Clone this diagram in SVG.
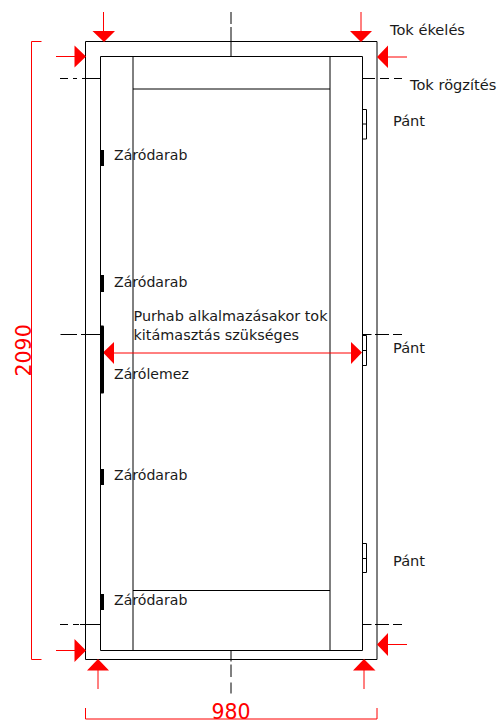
<svg xmlns="http://www.w3.org/2000/svg" width="497" height="721" viewBox="0 0 497 721">
<style>
text{font-family:"DejaVu Sans",Verdana,sans-serif;font-size:14.1px;fill:#1a1a1a}
.t{font-size:14.6px}
.n{font-size:14.4px}
.dim{font-size:20.5px;fill:#f00}
.k{fill:none;stroke:#000;stroke-width:1}
.d{fill:none;stroke:#000;stroke-width:1}
.r{fill:none;stroke:#f00;stroke-width:1}
.h{fill:#f00;stroke:none}
.b{fill:#000;stroke:none}
</style>
<rect width="497" height="721" fill="#fff"/>
<g id="door-frame">
<path class="k" d="M85.500 659.500V41.500H377V659.500H85.500"/>
<path class="k" d="M100.500 56.500H362.500V650.500H100.500Z"/>
<path class="k" d="M133 56.500V650.500M330 56.500V650.500M133 89H330M133 590.500H330"/>
</g>
<g id="connectors">
<path class="d" d="M231 12V24M231 27V56M231 650V661.500M231 664.500V677M231 682.500V693.500M60 78.500H68M73 78.500H77M82 78.500H100M363 78.500H375M380 78.500H389M394 78.500H402M60.500 334.500H77M81 334.500H100M363 334.500H371.500M375 334.500H389M393 334.500H402M60 624.500H68M73 624.500H79M80 624.500H100M363 624.500H371.500M375 624.500H389M393 624.500H402"/>
<path class="r" d="M103.500 12V32M361 12V32M56 56.500H76M407 57H386M56 650.500H76M407 644.500H386M98 689V669M364 689V669M108 353H356"/>
<path class="h" d="M104 42L92.500 31H115ZM361 42L350 31H372ZM86 56.500L74.500 45.500V67.500ZM377 57L388 45.500V68ZM86 650.500L74.500 639V662ZM377 644.500L388 633V656ZM98 659L87 670.500H109ZM364 659L353 670.500H375.500ZM103 352.500L114 342V364ZM362 352.500L351 342V364Z"/>
</g>
<g id="dimension-height">
<path class="r" d="M41.500 41.500H31.500V659.500H41.500"/>
<text class="dim" transform="translate(30.500 376.500) rotate(-90)">2090</text>
</g>
<g id="dimension-width">
<path class="r" d="M85.500 708V719H377V708"/>
<text class="dim" x="231" y="719" text-anchor="middle">980</text>
</g>
<g id="strike-1"><rect class="b" x="100" y="150" width="4" height="16"/><text x="114" y="160">Záródarab</text></g>
<g id="strike-2"><rect class="b" x="100" y="275" width="4" height="17"/><text x="114" y="287">Záródarab</text></g>
<g id="strike-plate"><rect class="b" x="100" y="325.500" width="4" height="68" rx="1"/><text x="114" y="379">Zárólemez</text></g>
<g id="strike-3"><rect class="b" x="100" y="469" width="4" height="16"/><text x="114" y="480">Záródarab</text></g>
<g id="strike-4"><rect class="b" x="100" y="594" width="4" height="16"/><text x="114" y="605">Záródarab</text></g>
<g id="hinge-1"><path class="k" d="M363 109.500H366.500V139H363M363 124H366.500"/><text class="t" x="393" y="126">Pánt</text></g>
<g id="hinge-2"><path class="k" d="M363 335.500H366.500V365.500H363M363 350.500H366.500"/><text class="t" x="393" y="353">Pánt</text></g>
<g id="hinge-3"><path class="k" d="M363 543.500H366.500V572.500H363M363 558.500H366.500"/><text class="t" x="393" y="566">Pánt</text></g>
<g id="label-wedge"><text class="t" x="390" y="35">Tok ékelés</text></g>
<g id="label-fix"><text class="t" x="410" y="90">Tok rögzítés</text></g>
<g id="label-note"><text class="n" x="133.500" y="321">Purhab alkalmazásakor tok</text><text class="n" x="133.500" y="340">kitámasztás szükséges</text></g>
</svg>
